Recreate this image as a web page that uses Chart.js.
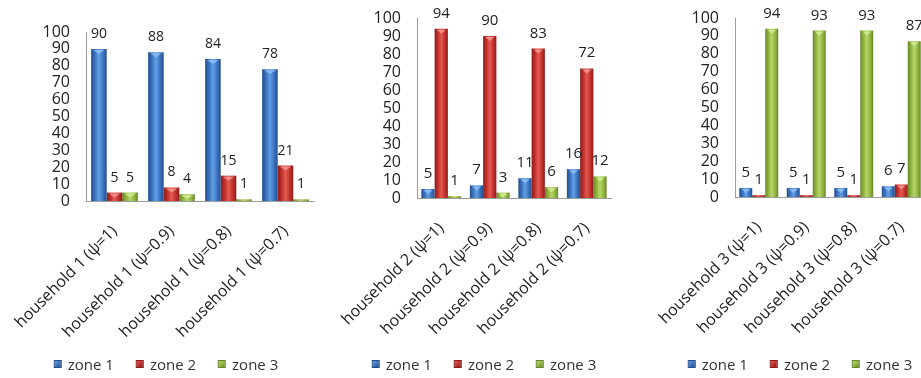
<!DOCTYPE html>
<html>
<head>
<meta charset="utf-8">
<title>Zone choice by household</title>
<script src="https://cdn.jsdelivr.net/npm/chart.js@4.4.0/dist/chart.umd.min.js"></script>
<style>
  html, body { margin: 0; padding: 0; background: #fff; width: 921px; height: 378px; overflow: hidden; }
  body { position: relative; }
  .panel { position: absolute; top: 0; }
  .legend {
    position: absolute; top: 355px; height: 18px;
    display: flex; align-items: center; transform: translateX(-50%);
    font: 15px "Open Sans", sans-serif; color: #333; white-space: nowrap;
  }
  .legend .item { display: flex; align-items: center; margin-right: 22px; }
  .legend .item:last-child { margin-right: 0; }
  .legend .sw { width: 8px; height: 8px; margin-right: 6px; box-sizing: border-box; }
</style>
</head>
<body>
<div class="panel" style="left:0px"><canvas id="hh1" width="330" height="378"></canvas></div>
<div class="panel" style="left:330px"><canvas id="hh2" width="300" height="378"></canvas></div>
<div class="panel" style="left:640px"><canvas id="hh3" width="300" height="378"></canvas></div>
<div class="legend" id="leg1" style="left:166px"></div>
<div class="legend" id="leg2" style="left:484px"></div>
<div class="legend" id="leg3" style="left:800px"></div>

<script>
// ---- data ----
const zoneNames = ['zone 1', 'zone 2', 'zone 3'];

const hh1Categories = ['household 1 (ψ=1)', 'household 1 (ψ=0.9)', 'household 1 (ψ=0.8)', 'household 1 (ψ=0.7)'];
const hh1Zone1 = [90, 88, 84, 78];
const hh1Zone2 = [5, 8, 15, 21];
const hh1Zone3 = [5, 4, 1, 1];

const hh2Categories = ['household 2 (ψ=1)', 'household 2 (ψ=0.9)', 'household 2 (ψ=0.8)', 'household 2 (ψ=0.7)'];
const hh2Zone1 = [5, 7, 11, 16];
const hh2Zone2 = [94, 90, 83, 72];
const hh2Zone3 = [1, 3, 6, 12];

const hh3Categories = ['household 3 (ψ=1)', 'household 3 (ψ=0.9)', 'household 3 (ψ=0.8)', 'household 3 (ψ=0.7)'];
const hh3Zone1 = [5, 5, 5, 6];
const hh3Zone2 = [1, 1, 1, 7];
const hh3Zone3 = [94, 93, 93, 87];

const shareMin = 0;
const shareMax = 100;
const shareStep = 10;

// ---- styling ----
const FONT = '"Open Sans", sans-serif';
const CAT_PCT = 0.82;
const BAR_PCT = 1.0;
const AXIS_COLOR = '#9c9c9c';
const TEXT_COLOR = '#222';

// dark edge, body, highlight, cap
const zoneShades = [
  ['#244f8c', '#3a71bd', '#62a0e6', '#8cc0f4'],
  ['#8a1d1a', '#c1302b', '#e35a52', '#f29890'],
  ['#66862a', '#91b43e', '#b6d66a', '#d4ec98']
];

Chart.defaults.font.family = FONT;

// Rounded, cylinder-like fill spread across each bar's own width
function cylinderFill(zoneIndex) {
  const [dark, body, light] = zoneShades[zoneIndex];
  return function (context) {
    const chart = context.chart;
    const xs = chart.scales && chart.scales.x;
    if (!xs || !(xs.right > xs.left)) return body;
    const n = chart.data.labels.length;
    const catW = (xs.right - xs.left) / n;
    const size = catW * CAT_PCT;
    const chunk = size / chart.data.datasets.length;
    const center = xs.getPixelForValue(context.dataIndex) - size / 2 + chunk * (context.datasetIndex + 0.5);
    const half = chunk * BAR_PCT / 2;
    const g = chart.ctx.createLinearGradient(center - half, 0, center + half, 0);
    g.addColorStop(0, dark);
    g.addColorStop(0.25, body);
    g.addColorStop(0.5, light);
    g.addColorStop(0.78, body);
    g.addColorStop(1, dark);
    return g;
  };
}

// Top highlight on each bar plus its value above it
const valueLabels = {
  id: 'valueLabels',
  afterDatasetsDraw(chart, args, opts) {
    const ctx = chart.ctx;
    ctx.save();
    chart.data.datasets.forEach((ds, di) => {
      const cap = zoneShades[di][3];
      chart.getDatasetMeta(di).data.forEach((el) => {
        const h = el.base - el.y;
        if (h > 4) {
          const w = el.width;
          ctx.fillStyle = cap;
          ctx.globalAlpha = 0.85;
          ctx.beginPath();
          ctx.moveTo(el.x - w / 2 + 2, el.y + 1);
          ctx.lineTo(el.x + w / 2 - 2, el.y + 1);
          ctx.lineTo(el.x, el.y + 5);
          ctx.closePath();
          ctx.fill();
          ctx.globalAlpha = 1;
        }
      });
    });
    ctx.font = opts.size + 'px ' + FONT;
    ctx.fillStyle = TEXT_COLOR;
    ctx.textAlign = 'center';
    ctx.textBaseline = 'alphabetic';
    chart.data.datasets.forEach((ds, di) => {
      chart.getDatasetMeta(di).data.forEach((el, i) => {
        ctx.fillText(String(ds.data[i]), el.x, el.y - opts.gap);
      });
    });
    ctx.restore();
  }
};

function makePanel(canvasId, categories, series, frame) {
  return new Chart(document.getElementById(canvasId), {
    type: 'bar',
    data: {
      labels: categories,
      datasets: series.map((values, k) => ({
        label: zoneNames[k],
        data: values,
        backgroundColor: cylinderFill(k),
        borderWidth: 0,
        categoryPercentage: CAT_PCT,
        barPercentage: BAR_PCT
      }))
    },
    options: {
      responsive: false,
      animation: false,
      events: [],
      layout: { padding: { left: 0, right: frame.padRight, top: frame.top, bottom: 0 } },
      plugins: {
        legend: { display: false },
        tooltip: { enabled: false },
        valueLabels: { size: frame.labelSize, gap: 11 }
      },
      scales: {
        x: {
          grid: { display: false, drawTicks: false },
          border: { display: true, color: AXIS_COLOR, width: 1 },
          ticks: {
            autoSkip: false, minRotation: 45, maxRotation: 45,
            padding: 21, color: TEXT_COLOR, font: { size: 16 }
          },
          afterFit: (s) => {
            s.height = frame.axisHeight;
            s.paddingLeft = 0;
            s.paddingRight = 0;
          }
        },
        y: {
          min: shareMin, max: shareMax,
          grid: { display: false, drawTicks: false },
          border: { display: true, color: AXIS_COLOR, width: 1 },
          ticks: { stepSize: shareStep, autoSkip: false, padding: 16, color: TEXT_COLOR, font: { size: 16 } },
          afterFit: (s) => {
            s.width = frame.yWidth;
            s.paddingTop = 0;
            s.paddingBottom = 0;
          }
        }
      }
    },
    plugins: [valueLabels]
  });
}

makePanel('hh1', hh1Categories, [hh1Zone1, hh1Zone2, hh1Zone3],
  { padRight: 16, top: 32, axisHeight: 177, yWidth: 86, labelSize: 14 });
makePanel('hh2', hh2Categories, [hh2Zone1, hh2Zone2, hh2Zone3],
  { padRight: 19, top: 18, axisHeight: 180, yWidth: 87, labelSize: 15 });
makePanel('hh3', hh3Categories, [hh3Zone1, hh3Zone2, hh3Zone3],
  { padRight: 15, top: 18, axisHeight: 181, yWidth: 95, labelSize: 15 });

// Legends under each panel
['leg1', 'leg2', 'leg3'].forEach((id) => {
  const box = document.getElementById(id);
  zoneNames.forEach((name, k) => {
    const item = document.createElement('div');
    item.className = 'item';
    const sw = document.createElement('span');
    sw.className = 'sw';
    const [dark, body, light] = zoneShades[k];
    sw.style.background = 'linear-gradient(135deg, ' + light + ', ' + body + ' 55%, ' + dark + ')';
    sw.style.border = '1px solid ' + dark;
    const txt = document.createElement('span');
    txt.textContent = name;
    item.appendChild(sw);
    item.appendChild(txt);
    box.appendChild(item);
  });
});
</script>
</body>
</html>
